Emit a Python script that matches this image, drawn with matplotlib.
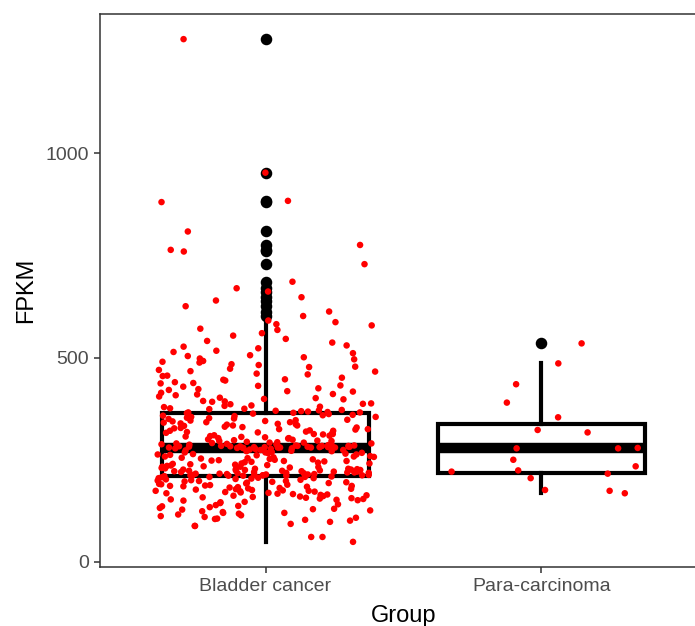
import numpy as np
import matplotlib.pyplot as plt

# FPKM values (Bladder cancer split by band, high to low)
bladder_outliers = [1280, 953, 884, 881, 809, 776, 764, 760, 729, 686, 670, 662,
                    648, 640, 626, 613, 602]
bladder_high = [591, 587, 582, 579, 571, 568, 560, 554, 546, 541, 537, 530, 527,
                523, 517, 514, 511, 506, 504, 501]
bladder_upper = [498, 496, 492, 490, 488, 484, 482, 478, 477, 473, 470, 467, 466,
                 461, 459, 456, 455, 451, 447, 446, 444, 440, 438, 437, 432, 431,
                 429, 425, 423, 421, 418, 417, 414, 411, 410, 408, 405, 402, 401,
                 399, 398, 394, 393, 392, 388, 387, 386, 383, 382, 380, 379, 376,
                 375, 374, 372, 371, 370, 369, 368, 367, 366, 366, 365]
bladder_q3 = [364, 363, 362, 360, 359, 358, 357, 355, 355, 353, 352, 351, 350, 348,
              347, 346, 345, 344, 342, 342, 341, 339, 338, 337, 336, 334, 334, 333,
              331, 330, 329, 328, 327, 325, 325, 324, 322, 321, 321, 319, 318, 317,
              316, 315, 313, 313, 312, 310, 309, 308, 307, 306, 305, 303, 303, 302,
              300, 299, 298, 297, 296, 296, 294, 293, 292, 292, 291, 290, 290, 289,
              288, 288, 287, 287, 286, 285, 285, 284, 284, 284, 283, 283, 283, 282,
              282, 282, 281, 281, 281, 281, 280, 280, 280, 280, 280, 280, 281, 282,
              283, 284]
bladder_q2 = [279, 278, 278, 276, 275, 274, 273, 272, 271, 269, 268, 268, 266, 265,
              264, 263, 262, 261, 259, 258, 257, 256, 255, 254, 253, 251, 250, 249,
              248, 247, 246, 245, 244, 243, 241, 240, 239, 238, 237, 236, 235, 234,
              233, 232, 231, 230, 229, 228, 228, 227, 227, 226, 225, 225, 224, 224,
              223, 223, 222, 222, 221, 221, 220, 220, 219, 219, 218, 218, 217, 217,
              216, 216, 215, 215, 214, 214, 213, 213, 213, 212, 212, 212, 212, 211,
              211, 211, 211, 226, 233, 241, 247, 252, 258, 263, 267, 271, 274, 277,
              279, 279]
bladder_low = [210, 209, 208, 207, 206, 205, 204, 203, 201, 200, 199, 198, 196, 195,
               194, 193, 191, 190, 189, 187, 186, 185, 183, 182, 181, 179, 178, 177,
               175, 174, 173, 171, 170, 168, 167, 166, 164, 163, 162, 160, 159, 158,
               156, 155, 154, 152, 151, 150, 205, 198, 192, 184, 176, 169, 161, 153,
               208, 202, 188, 172, 157, 147, 144, 141, 139, 136, 134, 132, 130, 128,
               126, 124, 122, 120, 120, 118, 116, 114, 112, 110, 108, 106, 105, 103,
               101, 146, 137, 129, 98, 93, 88, 88, 61, 61, 49, 165, 180, 197, 186, 174]

para = [486, 535, 435, 390, 354, 323, 317, 279, 278, 278, 250, 234, 224, 216, 221,
        205, 176, 174, 168]

bladder = (bladder_outliers + bladder_high + bladder_upper + bladder_q3 +
           bladder_q2 + bladder_low)
groups = ["Bladder cancer", "Para-carcinoma"]
values = [np.array(bladder, float), np.array(para, float)]

plt.rcParams['font.family'] = ['Liberation Sans', 'DejaVu Sans']

fig = plt.figure(figsize=(6.95, 6.26), dpi=100)
ax = fig.add_axes([100 / 695, 59 / 626, 607 / 695, 553 / 626])

ax.boxplot(values, positions=[1, 2], widths=0.75, patch_artist=True,
           showcaps=False,
           boxprops=dict(facecolor='white', edgecolor='black', linewidth=3),
           medianprops=dict(color='black', linewidth=7.5, solid_capstyle='butt'),
           whiskerprops=dict(color='black', linewidth=3),
           flierprops=dict(marker='o', markerfacecolor='black',
                           markeredgecolor='black', markersize=7.3),
           zorder=2)

# geom_jitter style horizontal spread
rng = np.random.default_rng(11)
for i, v in enumerate(values):
    xj = i + 1 + rng.uniform(-0.4, 0.4, len(v))
    ax.scatter(xj, v, s=22, color='#FF0000', edgecolors='none', zorder=3)

allv = np.concatenate(values)
rngv = allv.max() - allv.min()
ax.set_ylim(allv.min() - 0.05 * rngv, allv.max() + 0.05 * rngv)
ax.set_xlim(0.4, 2.6)

ax.set_xticks([1, 2])
ax.set_xticklabels(groups)
ax.set_yticks([0, 500, 1000])
ax.tick_params(axis='both', colors='#333333', labelcolor='#4D4D4D',
               labelsize=14, length=4, width=1.1, pad=4)
for sp in ax.spines.values():
    sp.set_color('#333333')
    sp.set_linewidth(1.1)

ax.set_xlabel("Group", fontsize=17, labelpad=7)
ax.set_ylabel("FPKM", fontsize=17, labelpad=6)

fig.savefig("out.png", dpi=100)
